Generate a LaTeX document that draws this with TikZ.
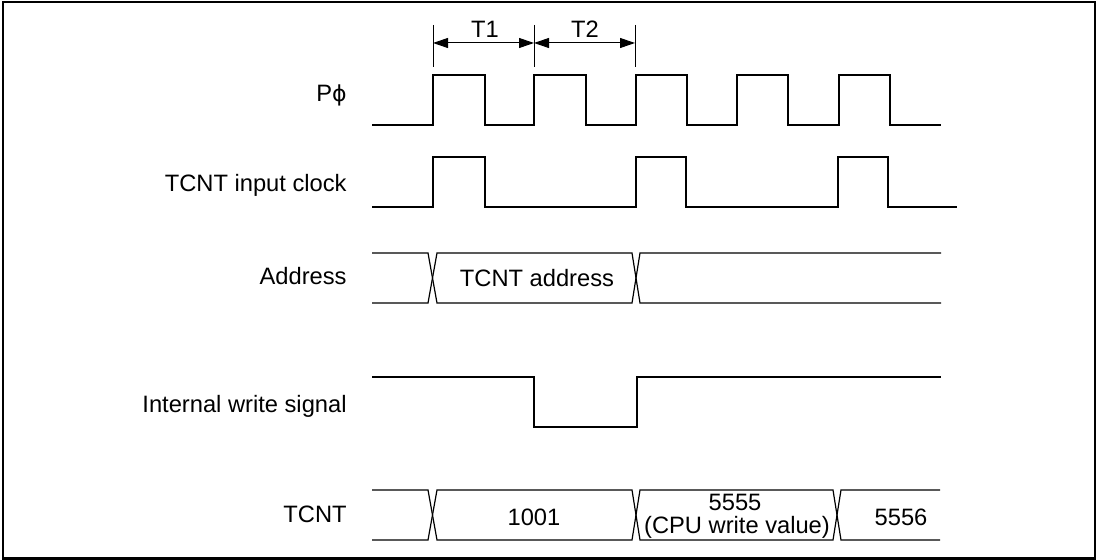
\documentclass[tikz,border=0pt]{standalone}
\usepackage{fontspec}
\setmainfont{Liberation Sans}
\newfontfamily\symfam{DejaVu Sans}
\usetikzlibrary{arrows.meta}
\begin{document}
\begin{tikzpicture}[x=0.5pt,y=-0.5pt,
  sig/.style={line width=0.6pt, line join=miter},
  lbl/.style={inner sep=0pt, font=\fontsize{11.85}{14.2}\selectfont},
  dim/.style={line width=0.5pt},
  dimarrow/.style={dim, {Triangle[length=7.5pt,width=5pt]}-{Triangle[length=7.5pt,width=5pt]}}]
\useasboundingbox (0,0) rectangle (1097,560);
\draw[line width=1pt] (2.5,2.5) rectangle (1094.5,558.5);

% signal labels
\node[lbl, anchor=base east] (lphi) at (347,102) {P{\symfam\fontsize{11}{14}\selectfont ϕ}};
\node[lbl, anchor=base east] (lclk) at (347,192) {TCNT input clock};
\node[lbl, anchor=base east] (laddr) at (347,285) {Address};
\node[lbl, anchor=base east] (lwr) at (347,413) {Internal write signal};
\node[lbl, anchor=base east] (ltcnt) at (347,523) {TCNT};

% T1 / T2 dimension
\coordinate (d0) at (433,43);
\coordinate (d1) at (534,43);
\coordinate (d2) at (635,43);
\draw[dim] (433,25) -- (433,67);
\draw[dim] (534,25) -- (534,67);
\draw[dim] (635,25) -- (635,67);
\draw[dimarrow] (d0) -- (d1);
\draw[dimarrow] (d1) -- (d2);
\node[lbl, anchor=base] (tone) at (485,38) {T1};
\node[lbl, anchor=base] (ttwo) at (585,38) {T2};

% P phi
\draw[sig] (372,125) -- (433,125) -- (433,75) -- (485,75) -- (485,125) -- (534,125) -- (534,75) -- (586,75) -- (586,125)
  -- (636,125) -- (636,75) -- (687,75) -- (687,125) -- (737,125) -- (737,75) -- (788,75) -- (788,125)
  -- (839,125) -- (839,75) -- (890,75) -- (890,125) -- (941,125);

% TCNT input clock
\draw[sig] (372,207) -- (433,207) -- (433,157) -- (485,157) -- (485,207) -- (636,207) -- (636,157) -- (686,157) -- (686,207)
  -- (838,207) -- (838,157) -- (888,157) -- (888,207) -- (957,207);

% Address
\draw[sig] (372,253) -- (428,253) -- (437,303) -- (632,303) -- (640,253) -- (941,253);
\draw[sig] (372,303) -- (428,303) -- (437,253) -- (632,253) -- (640,303) -- (941,303);
\node[lbl, anchor=base] (vaddr) at (537,287) {TCNT address};

% Internal write signal
\draw[sig] (372,377) -- (534,377) -- (534,427) -- (637,427) -- (637,377) -- (941,377);

% TCNT
\draw[sig] (372,490) -- (428,490) -- (437,540) -- (632,540) -- (640,490) -- (833,490) -- (841,540) -- (940,540);
\draw[sig] (372,540) -- (428,540) -- (437,490) -- (632,490) -- (640,540) -- (833,540) -- (841,490) -- (940,490);
\node[lbl, anchor=base] (v1001) at (534,525) {1001};
\node[lbl, anchor=base] (v5555) at (735,511) {5555};
\node[lbl, anchor=base] (vcpu) at (737,534) {(CPU write value)};
\node[lbl, anchor=base] (v5556) at (901,525) {5556};
\end{tikzpicture}
\end{document}
